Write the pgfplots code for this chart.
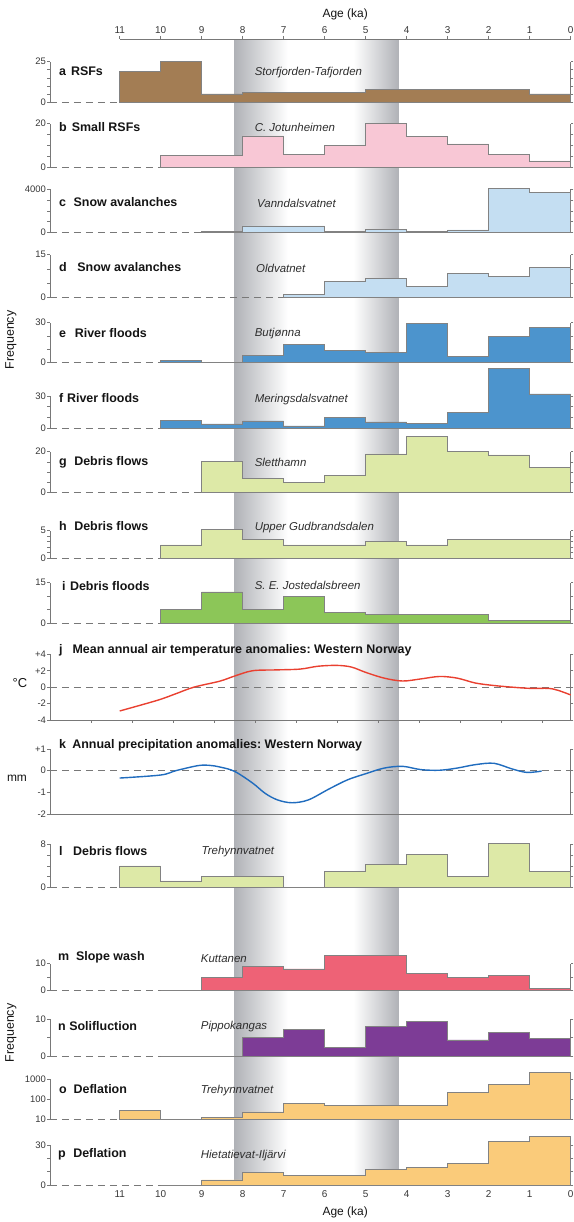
\documentclass[border=0pt]{standalone}
\usepackage{pgfplots}
\pgfplotsset{compat=1.18}
\usepackage{fontspec}
\setmainfont{Liberation Sans}
\frenchspacing
\definecolor{axc}{RGB}{120,120,120}
\definecolor{outl}{RGB}{130,130,130}
\definecolor{tlc}{RGB}{55,55,55}
\definecolor{txc}{RGB}{20,20,20}
\definecolor{sitec}{RGB}{45,45,45}
\definecolor{bandc}{RGB}{176,178,183}
\definecolor{cA}{RGB}{163,125,84}
\definecolor{cB}{RGB}{248,199,213}
\definecolor{cC}{RGB}{196,222,242}
\definecolor{cE}{RGB}{76,148,205}
\definecolor{cG}{RGB}{221,233,167}
\definecolor{cI}{RGB}{140,198,88}
\definecolor{cJ}{RGB}{233,64,48}
\definecolor{cK}{RGB}{32,108,190}
\definecolor{cM}{RGB}{238,98,118}
\definecolor{cN}{RGB}{125,60,150}
\definecolor{cO}{RGB}{250,203,122}
\tikzset{
 zl/.style={draw=axc, line width=0.8bp, dash pattern=on 7bp off 5bp},
 plab/.style={anchor=west, text=txc, font=\bfseries\fontsize{12.5}{14}\selectfont, inner sep=0pt},
 slab/.style={anchor=west, text=sitec, font=\itshape\fontsize{11.5}{13}\selectfont, inner sep=0pt},
}
\pgfplotsset{
 base/.style={scale only axis, width=520.7bp, xmin=0, xmax=12.7, x dir=reverse, clip=false, anchor=south west,
   tick align=outside, major tick length=2.6bp, minor tick length=1.5bp,
   tick style={draw=axc, line width=0.6bp},
   axis line style={draw=axc, line width=0.7bp},
   yticklabel style={font=\fontsize{9.5}{10}\selectfont, text=tlc, inner sep=1.2bp},
   /pgf/number format/assume math mode=true},
 hist/.style={base, axis x line=none, axis y line=box, ymin=0, yticklabel pos=left, xtick=\empty},
 stp/.style={const plot, draw=outl, line width=0.6bp, fill=#1},
}
\begin{document}
\begin{tikzpicture}
\useasboundingbox (0,0) rectangle (574bp,-1222bp);
% grey band
\begin{axis}[scale only axis, width=520.7bp, height=1146bp, xmin=0, xmax=12.7, x dir=reverse, ymin=0, ymax=1, hide axis, anchor=south west, at={(50bp,-1185bp)}, clip=false]
\addplot[draw=none] coordinates {(0,0)};
\shade[left color=bandc, right color=white] (axis cs:8.2,0) rectangle (axis cs:6.9,1);
\shade[left color=white, right color=bandc] (axis cs:5.3,0) rectangle (axis cs:4.2,1);
\end{axis}
% top axis
\begin{axis}[scale only axis, width=451bp, height=10bp, xmin=0, xmax=11, x dir=reverse, ymin=0, ymax=1,
  axis x line*=top, axis y line=none, at={(119.7bp,-39bp)}, anchor=north west, xtick={0,...,11},
  tick align=outside, major tick length=3bp, tick style={draw=axc, line width=0.6bp},
  axis line style={draw=axc, line width=0.7bp},
  xticklabel style={font=\fontsize{10}{11}\selectfont, text=tlc, inner sep=2bp},
  xlabel={Age (ka)}, xlabel style={font=\fontsize{12}{13}\selectfont, text=txc, inner sep=2bp, yshift=3bp},
  /pgf/number format/assume math mode=true]
\addplot[draw=none] coordinates {(0,0)};
\end{axis}
% bottom axis
\begin{axis}[scale only axis, width=451bp, height=10bp, xmin=0, xmax=11, x dir=reverse, ymin=0, ymax=1,
  axis x line*=bottom, axis y line=none, at={(119.7bp,-1185bp)}, anchor=south west, xtick={0,...,11},
  major tick length=0bp, tick style={draw=none}, axis line style={draw=none},
  xticklabel style={font=\fontsize{10}{11}\selectfont, text=tlc, inner sep=2bp, yshift=-3.5bp},
  xlabel={Age (ka)}, xlabel style={font=\fontsize{12}{13}\selectfont, text=txc, inner sep=2bp, yshift=-5bp},
  /pgf/number format/assume math mode=true]
\addplot[draw=none] coordinates {(0,0)};
\end{axis}
% a
\begin{axis}[hist, at={(50bp,-102bp)}, height=40.3bp, ymax=25, ytick={0,5,10,15,20,25}, yticklabels={0,,,,,25}]
\draw[zl] (axis cs:12.7,0) -- (axis cs:11,0);
\addplot[stp=cA] coordinates {(11,0) (11,19) (10,25) (9,5) (8,6) (7,6) (6,6) (5,8) (4,8) (3,8) (2,8) (1,5) (0,5) (0,0)} -- cycle;
\end{axis}
% b
\begin{axis}[hist, at={(50bp,-167.3bp)}, height=43.6bp, ymax=20, ytick={0,5,10,15,20}, yticklabels={0,,,,20}]
\draw[zl] (axis cs:12.7,0) -- (axis cs:10,0);
\addplot[stp=cB] coordinates {(10,0) (10,5.3) (9,5.3) (8,14.4) (7,5.8) (6,10.2) (5,20) (4,14) (3,10.7) (2,6) (1,2.9) (0,2.9) (0,0)} -- cycle;
\end{axis}
% c
\begin{axis}[hist, at={(50bp,-232.3bp)}, height=43bp, ymax=4000, ytick={0,1000,2000,3000,4000}, yticklabels={0,,,,4000}]
\draw[zl] (axis cs:12.7,0) -- (axis cs:9,0);
\addplot[stp=cC] coordinates {(9,0) (9,120) (8,600) (7,600) (6,90) (5,250) (4,90) (3,220) (2,4100) (1,3700) (0,3700) (0,0)} -- cycle;
\end{axis}
% d
\begin{axis}[hist, at={(50bp,-297.7bp)}, height=43bp, ymax=15, ytick={0,5,10,15}, yticklabels={0,,,15}]
\draw[zl] (axis cs:12.7,0) -- (axis cs:7,0);
\addplot[stp=cC] coordinates {(7,0) (7,1.05) (6,5.7) (5,6.6) (4,4.0) (3,8.5) (2,7.3) (1,10.5) (0,10.5) (0,0)} -- cycle;
\end{axis}
% e
\begin{axis}[hist, at={(50bp,-362.7bp)}, height=40bp, ymax=30, ytick={0,10,20,30}, yticklabels={0,,,30}]
\draw[zl] (axis cs:12.7,0) -- (axis cs:10,0);
\addplot[stp=cE] coordinates {(10,0) (10,1.5) (9,0) (8,5.25) (7,13.75) (6,9.5) (5,7.75) (4,29.75) (3,4.5) (2,19.5) (1,26.5) (0,26.5) (0,0)} -- cycle;
\end{axis}
% f
\begin{axis}[hist, at={(50bp,-428.3bp)}, height=32.3bp, ymax=30, ytick={0,10,20,30}, yticklabels={0,,,30}]
\draw[zl] (axis cs:12.7,0) -- (axis cs:10,0);
\addplot[stp=cE] coordinates {(10,0) (10,7.7) (9,4.0) (8,6.8) (7,2.2) (6,9.9) (5,5.9) (4,4.6) (3,14.9) (2,55.7) (1,31.9) (0,31.9) (0,0)} -- cycle;
\end{axis}
% g
\begin{axis}[hist, at={(50bp,-492.3bp)}, height=40.6bp, ymax=20, ytick={0,5,10,15,20}, yticklabels={0,,,,20}]
\draw[zl] (axis cs:12.7,0) -- (axis cs:9,0);
\addplot[stp=cG] coordinates {(9,0) (9,15.4) (8,6.9) (7,4.9) (6,8.5) (5,18.9) (4,27.4) (3,20) (2,18.4) (1,12.3) (0,12.3) (0,0)} -- cycle;
\end{axis}
% h
\begin{axis}[hist, at={(50bp,-558bp)}, height=27.3bp, ymax=5, ytick={0,1,2,3,4,5}, yticklabels={0,,,,,5}]
\draw[zl] (axis cs:12.7,0) -- (axis cs:10,0);
\addplot[stp=cG] coordinates {(10,0) (10,2.4) (9,5.2) (8,3.4) (7,2.4) (6,2.4) (5,3.0) (4,2.4) (3,3.4) (2,3.4) (1,3.4) (0,3.4) (0,0)} -- cycle;
\end{axis}
% i
\begin{axis}[hist, at={(50bp,-623bp)}, height=40.3bp, ymax=15, ytick={0,5,10,15}, yticklabels={0,,,15}]
\draw[zl] (axis cs:12.7,0) -- (axis cs:10,0);
\addplot[stp=cI] coordinates {(10,0) (10,5) (9,11.6) (8,5) (7,9.8) (6,4) (5,3.2) (4,3.2) (3,3.2) (2,0.9) (1,0.9) (0,0.9) (0,0)} -- cycle;
\end{axis}
% j
\begin{axis}[base, at={(50bp,-720bp)}, height=65.7bp, ymin=-4, ymax=4, axis y line=box, axis x line*=bottom,
  xtick={0.7,1.7,2.7,3.7,4.7,5.7,6.7,7.7,8.7,9.7,10.7,11.7}, xticklabels={}, ytick={-4,-2,0,2,4}, yticklabels={-4,-2,0,+2,+4}, yticklabel pos=left]
\draw[zl] (axis cs:12.7,0) -- (axis cs:0,0);
\addplot[smooth, tension=0.55, color=cJ, line width=1.4bp] coordinates {(11.0,-2.9) (10.08,-1.6) (9.63,-0.8) (9.19,0.0) (8.56,0.73) (8.2,1.35) (7.76,2.0) (7.2,2.1) (6.6,2.2) (6.16,2.55) (5.7,2.65) (5.35,2.45) (5.0,1.8) (4.55,1.1) (4.1,0.75) (3.66,1.0) (3.2,1.3) (2.77,1.1) (2.32,0.5) (1.87,0.2) (1.43,0.0) (0.98,-0.15) (0.54,-0.15) (0.3,-0.4) (0,-0.95)};
\end{axis}
% k
\begin{axis}[base, at={(50bp,-814bp)}, height=65bp, ymin=-2, ymax=1, axis y line=box, axis x line*=bottom,
  xtick=\empty, ytick={-2,-1,0,1}, yticklabels={-2,-1,0,+1}, yticklabel pos=left]
\draw[zl] (axis cs:12.7,0) -- (axis cs:0,0);
\addplot[smooth, tension=0.55, color=cK, line width=1.4bp] coordinates {(11.0,-0.34) (10.0,-0.2) (9.63,0.0) (9.1,0.23) (8.83,0.25) (8.56,0.17) (8.2,-0.03) (7.76,-0.57) (7.45,-1.05) (7.15,-1.35) (6.8,-1.48) (6.4,-1.35) (5.9,-0.85) (5.44,-0.42) (5.0,-0.14) (4.55,0.12) (4.1,0.2) (3.66,0.05) (3.2,0.02) (2.77,0.12) (2.32,0.28) (1.87,0.34) (1.43,0.08) (1.07,-0.08) (0.71,-0.02)};
\end{axis}
% l
\begin{axis}[hist, at={(50bp,-887.3bp)}, height=43bp, ymax=8, ytick={0,2,4,6,8}, yticklabels={0,,,,8}]
\draw[zl] (axis cs:12.7,0) -- (axis cs:11,0);
\addplot[stp=cG] coordinates {(11,0) (11,4) (10,1.2) (9,2.05) (8,2.05) (7,0) (6,3) (5,4.2) (4,6.1) (3,2) (2,8.1) (1,3) (0,3) (0,0)} -- cycle;
\end{axis}
% m
\begin{axis}[hist, at={(50bp,-990.7bp)}, height=27bp, ymax=10, ytick={0,5,10}, yticklabels={0,,10}]
\draw[zl] (axis cs:12.7,0) -- (axis cs:10,0);
\addplot[stp=cM] coordinates {(10,0) (9,4.8) (8,9.1) (7,8.1) (6,13.1) (5,13.1) (4,6.4) (3,4.8) (2,5.7) (1,1) (0,1) (0,0)} -- cycle;
\end{axis}
% n
\begin{axis}[hist, at={(50bp,-1056bp)}, height=36.7bp, ymax=10, ytick={0,5,10}, yticklabels={0,,10}]
\draw[zl] (axis cs:12.7,0) -- (axis cs:10,0);
\addplot[stp=cN] coordinates {(10,0) (8,5) (7,7.3) (6,2.3) (5,8) (4,9.5) (3,4.4) (2,6.4) (1,4.8) (0,4.8) (0,0)} -- cycle;
\end{axis}
% o
\begin{axis}[hist, ymode=log, at={(50bp,-1119.7bp)}, height=40.7bp, ymin=10, ymax=1000, ytick={10,100,1000}, yticklabels={10,100,1000}, minor tick style={draw=none}, minor tick length=0bp]
\draw[zl] (axis cs:12.7,10) -- (axis cs:11,10);
\addplot[stp=cO] coordinates {(11,10) (11,30) (10,10) (9,12.5) (8,24) (7,64) (6,51) (5,51) (4,51) (3,213) (2,547) (1,2050) (0,2050) (0,10)} -- cycle;
\end{axis}
% p
\begin{axis}[hist, at={(50bp,-1185bp)}, height=39.7bp, ymax=30, ytick={0,10,20,30}, yticklabels={0,,,30}]
\draw[zl] (axis cs:12.7,0) -- (axis cs:10,0);
\addplot[stp=cO] coordinates {(10,0) (9,3.8) (8,9.6) (7,7.3) (6,7.3) (5,11.8) (4,13.1) (3,16.6) (2,32.7) (1,36.8) (0,36.8) (0,0)} -- cycle;
\end{axis}
% labels
\node[plab] at (59bp,-71.7bp) {a\hspace{0.4em}RSFs};
\node[plab] at (59bp,-127bp) {b\hspace{0.4em}Small RSFs};
\node[plab] at (59bp,-202.3bp) {c\hspace{0.6em}Snow avalanches};
\node[plab] at (59bp,-267.3bp) {d\hspace{0.85em}Snow avalanches};
\node[plab] at (59bp,-333.3bp) {e\hspace{0.7em}River floods};
\node[plab] at (59bp,-397.7bp) {f\hspace{0.3em}River floods};
\node[plab] at (59bp,-462.3bp) {g\hspace{0.6em}Debris flows};
\node[plab] at (59bp,-526bp) {h\hspace{0.6em}Debris flows};
\node[plab] at (62bp,-585.7bp) {i\hspace{0.35em}Debris floods};
\node[plab] at (59bp,-650bp) {j\hspace{0.8em}Mean annual air temperature anomalies: Western Norway};
\node[plab] at (59bp,-745.7bp) {k\hspace{0.5em}Annual precipitation anomalies: Western Norway};
\node[plab] at (59bp,-851bp) {l\hspace{0.85em}Debris flows};
\node[plab] at (58bp,-957.7bp) {m\hspace{0.55em}Slope wash};
\node[plab] at (58bp,-1025.7bp) {n Solifluction};
\node[plab] at (59bp,-1089bp) {o\hspace{0.55em}Deflation};
\node[plab] at (58bp,-1154.7bp) {p\hspace{0.6em}Deflation};
\node[slab] at (254.6bp,-72.3bp) {Storfjorden-Tafjorden};
\node[slab] at (254.6bp,-127bp) {C. Jotunheimen};
\node[slab] at (257bp,-203.3bp) {Vanndalsvatnet};
\node[slab] at (256bp,-268.7bp) {Oldvatnet};
\node[slab] at (254.6bp,-334bp) {Butjønna};
\node[slab] at (254.6bp,-400bp) {Meringsdalsvatnet};
\node[slab] at (254.6bp,-462.7bp) {Sletthamn};
\node[slab] at (254.6bp,-527.3bp) {Upper Gudbrandsdalen};
\node[slab] at (254.6bp,-585.7bp) {S. E. Jostedalsbreen};
\node[slab] at (201.5bp,-851.7bp) {Trehynnvatnet};
\node[slab] at (200.7bp,-958.3bp) {Kuttanen};
\node[slab] at (200.7bp,-1026.7bp) {Pippokangas};
\node[slab] at (200.7bp,-1090.7bp) {Trehynnvatnet};
\node[slab] at (200.7bp,-1155.7bp) {Hietatievat-Iljärvi};
\node[rotate=90, text=txc, font=\fontsize{12.5}{13}\selectfont] at (11bp,-340bp) {Frequency};
\node[rotate=90, text=txc, font=\fontsize{12.5}{13}\selectfont] at (11bp,-1033bp) {Frequency};
\node[text=txc, font=\fontsize{13}{14}\selectfont] at (20bp,-683bp) {°C};
\node[text=txc, font=\fontsize{12}{13}\selectfont] at (17bp,-778bp) {mm};
\end{tikzpicture}
\end{document}
